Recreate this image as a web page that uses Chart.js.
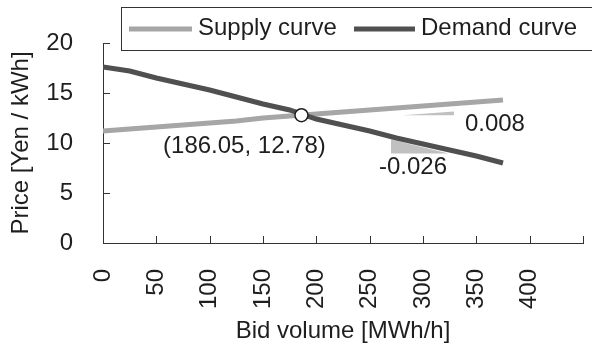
<!DOCTYPE html>
<html>
<head>
<meta charset="utf-8">
<script src="https://cdn.jsdelivr.net/npm/chart.js@4.4.0/dist/chart.umd.min.js"></script>
<style>
  html, body { margin: 0; padding: 0; background: #ffffff; }
  canvas { display: block; }
</style>
</head>
<body>
<canvas id="chart" width="592" height="351"></canvas>
<script>
// Bid volume [MWh/h] at which the curves are sampled
const bidVolume   = [0, 25, 50, 75, 100, 125, 150, 175, 200, 225, 250, 275, 300, 325, 350, 375];
// Price [Yen / kWh]
const supplyPrice = [11.2, 11.4, 11.6, 11.8, 12.0, 12.2, 12.5, 12.7, 12.9, 13.1, 13.3, 13.5, 13.7, 13.9, 14.1, 14.3];
const demandPrice = [17.6, 17.2, 16.5, 15.9, 15.3, 14.6, 13.9, 13.3, 12.4, 11.8, 11.2, 10.5, 9.9, 9.3, 8.7, 8.0];

// Market clearing point and local slopes of the two curves
const clearingPoint = [186.05, 12.78];
const supplySlope = 0.008;
const demandSlope = -0.026;
// Horizontal extent and base price of the slope wedges
const supplyWedgeSpan = [281, 329];
const supplyWedgeBase = 12.77;
const demandWedgeSpan = [270, 324];
const demandWedgeBase = 8.95;

// Axis ranges / ticks
const xTickValues = [0, 50, 100, 150, 200, 250, 300, 350, 400, 450];
const xLabelled   = [0, 50, 100, 150, 200, 250, 300, 350, 400];
const yTickValues = [0, 5, 10, 15, 20];

const FONT = 'Liberation Sans, Arial, sans-serif';
const TEXT = '#1e1e1e';
const AXIS = '#333333';
const SUPPLY_COLOR = '#a6a6a6';
const DEMAND_COLOR = '#505050';
const WEDGE_COLOR = '#c0c0c0';

const supplyPoints = bidVolume.map((x, i) => ({ x, y: supplyPrice[i] }));
const demandPoints = bidVolume.map((x, i) => ({ x, y: demandPrice[i] }));

// Supply wedge: rises along the supply slope to the right
const supplyWedge = [
  { x: supplyWedgeSpan[0], y: supplyWedgeBase },
  { x: supplyWedgeSpan[1], y: supplyWedgeBase + supplySlope * (supplyWedgeSpan[1] - supplyWedgeSpan[0]) },
  { x: supplyWedgeSpan[1], y: supplyWedgeBase },
  { x: supplyWedgeSpan[0], y: supplyWedgeBase }
];
// Demand wedge: falls along the demand slope to the right
const demandTop = demandWedgeBase - demandSlope * (demandWedgeSpan[1] - demandWedgeSpan[0]);
const demandWedge = [
  { x: demandWedgeSpan[0], y: demandTop },
  { x: demandWedgeSpan[1], y: demandWedgeBase },
  { x: demandWedgeSpan[0], y: demandWedgeBase },
  { x: demandWedgeSpan[0], y: demandTop }
];

// Inside tick marks on both axes
const insideTicks = {
  id: 'insideTicks',
  afterDraw(chart) {
    const { ctx, chartArea, scales } = chart;
    ctx.save();
    ctx.strokeStyle = AXIS;
    ctx.lineWidth = 1;
    ctx.beginPath();
    xTickValues.forEach(v => {
      const px = Math.round(scales.x.getPixelForValue(v)) + 0.5;
      ctx.moveTo(px, chartArea.bottom);
      ctx.lineTo(px, chartArea.bottom - 7);
    });
    yTickValues.forEach(v => {
      const py = Math.round(scales.y.getPixelForValue(v)) + 0.5;
      ctx.moveTo(chartArea.left, py);
      ctx.lineTo(chartArea.left + 7, py);
    });
    ctx.stroke();
    ctx.restore();
  }
};

// Text notes placed next to the clearing point and the slope wedges
const notes = {
  id: 'notes',
  afterDatasetsDraw(chart) {
    const { ctx, scales } = chart;
    const items = [
      { text: '(' + clearingPoint[0].toFixed(2) + ', ' + clearingPoint[1].toFixed(2) + ')', x: clearingPoint[0], y: clearingPoint[1], dx: -57, dy: 31 },
      { text: supplySlope.toFixed(3), x: supplyWedgeSpan[1], y: supplyWedgeBase, dx: 41, dy: 9 },
      { text: demandSlope.toFixed(3), x: demandWedgeSpan[0], y: demandWedgeBase, dx: 22, dy: 14 }
    ];
    ctx.save();
    ctx.font = '24px ' + FONT;
    ctx.fillStyle = TEXT;
    ctx.textAlign = 'center';
    ctx.textBaseline = 'middle';
    items.forEach(it => {
      const px = scales.x.getPixelForValue(it.x) + it.dx;
      const py = scales.y.getPixelForValue(it.y) + it.dy;
      ctx.fillText(it.text, px, py);
    });
    ctx.restore();
  }
};

// Boxed legend across the top edge
const boxedLegend = {
  id: 'boxedLegend',
  afterDraw(chart) {
    const { ctx } = chart;
    ctx.save();
    ctx.fillStyle = '#ffffff';
    ctx.fillRect(121, 7, 480, 43);
    ctx.strokeStyle = AXIS;
    ctx.lineWidth = 1;
    ctx.strokeRect(121.5, 7.5, 480, 43);
    const entries = [
      { label: chart.data.datasets[0].label, color: SUPPLY_COLOR, x0: 129, x1: 192 },
      { label: chart.data.datasets[1].label, color: DEMAND_COLOR, x0: 354, x1: 415 }
    ];
    ctx.font = '24px ' + FONT;
    ctx.textBaseline = 'middle';
    ctx.textAlign = 'left';
    entries.forEach(e => {
      ctx.strokeStyle = e.color;
      ctx.lineWidth = 5;
      ctx.beginPath();
      ctx.moveTo(e.x0, 29);
      ctx.lineTo(e.x1, 29);
      ctx.stroke();
      ctx.fillStyle = TEXT;
      ctx.fillText(e.label, e.x1 + 6, 28);
    });
    ctx.restore();
  }
};

new Chart(document.getElementById('chart'), {
  type: 'scatter',
  data: {
    datasets: [
      {
        label: 'Supply curve', data: supplyPoints, showLine: true,
        borderColor: SUPPLY_COLOR, borderWidth: 5, pointRadius: 0, tension: 0, order: 3
      },
      {
        label: 'Demand curve', data: demandPoints, showLine: true,
        borderColor: DEMAND_COLOR, borderWidth: 5, pointRadius: 0, tension: 0, order: 2
      },
      {
        label: 'supply slope', data: supplyWedge, showLine: true, fill: 'shape',
        backgroundColor: WEDGE_COLOR, borderWidth: 0, pointRadius: 0, order: 5
      },
      {
        label: 'demand slope', data: demandWedge, showLine: true, fill: 'shape',
        backgroundColor: WEDGE_COLOR, borderWidth: 0, pointRadius: 0, order: 5
      },
      {
        label: 'clearing', data: [{ x: clearingPoint[0], y: clearingPoint[1] }],
        pointRadius: 6.5, pointBackgroundColor: '#ffffff', pointBorderColor: '#1e1e1e',
        pointBorderWidth: 1.5, order: 0
      }
    ]
  },
  options: {
    responsive: false,
    devicePixelRatio: 1,
    animation: false,
    layout: { padding: { top: 43, right: 9, left: 0, bottom: 0 } },
    plugins: { legend: { display: false }, tooltip: { enabled: false } },
    scales: {
      x: {
        type: 'linear', min: 0, max: 450,
        afterBuildTicks(scale) { scale.ticks = xTickValues.map(v => ({ value: v })); },
        afterFit(scale) {
          scale.height = 108;
          scale.paddingLeft = 0;
          scale.paddingRight = 0;
        },
        ticks: {
          callback: v => (xLabelled.includes(v) ? String(v) : ''),
          maxRotation: 90, minRotation: 90, autoSkip: false,
          padding: 26, color: TEXT, font: { family: FONT, size: 24 }
        },
        grid: { display: false, drawTicks: false },
        border: { display: true, color: AXIS, width: 1 },
        title: {
          display: true, text: 'Bid volume [MWh/h]', color: TEXT,
          font: { family: FONT, size: 24 }, padding: { top: 0, bottom: 5 }
        }
      },
      y: {
        min: 0, max: 20,
        afterBuildTicks(scale) { scale.ticks = yTickValues.map(v => ({ value: v })); },
        afterFit(scale) {
          scale.width = 103;
          scale.paddingTop = 0;
          scale.paddingBottom = 0;
        },
        ticks: { padding: 30, color: TEXT, font: { family: FONT, size: 24 } },
        grid: { display: false, drawTicks: false },
        border: { display: true, color: AXIS, width: 1 },
        title: {
          display: true, text: 'Price [Yen / kWh]', color: TEXT,
          font: { family: FONT, size: 24 }, padding: { top: 7, bottom: 0 }
        }
      }
    }
  },
  plugins: [insideTicks, notes, boxedLegend]
});
</script>
</body>
</html>
